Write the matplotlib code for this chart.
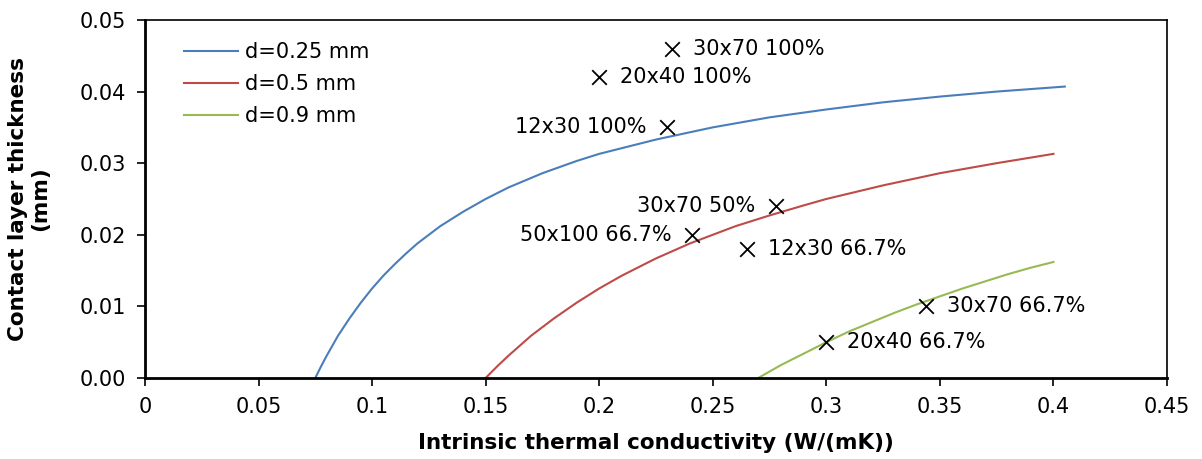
import numpy as np
import matplotlib.pyplot as plt
from matplotlib.ticker import FormatStrFormatter, FuncFormatter

# curves
k_025 = [0.075, 0.0775, 0.08, 0.0825, 0.085, 0.0875, 0.09, 0.095, 0.1, 0.105,
         0.11, 0.115, 0.12, 0.125, 0.13, 0.14, 0.15, 0.16, 0.175, 0.19, 0.2,
         0.225, 0.25, 0.275, 0.3, 0.325, 0.35, 0.375, 0.405]
h_025 = [0.0, 0.0016, 0.0031, 0.0045, 0.0059, 0.0071, 0.0083, 0.0105, 0.0125,
         0.0143, 0.0159, 0.0174, 0.0188, 0.02, 0.0212, 0.0232, 0.025, 0.0266,
         0.0286, 0.0303, 0.0313, 0.0333, 0.035, 0.0364, 0.0375, 0.0385,
         0.0393, 0.040, 0.0407]

k_05 = [0.15, 0.1525, 0.155, 0.16, 0.165, 0.17, 0.18, 0.19, 0.2, 0.21, 0.225,
        0.24, 0.25, 0.26, 0.275, 0.29, 0.3, 0.325, 0.35, 0.375, 0.4]
h_05 = [0.0, 0.0008, 0.0016, 0.0031, 0.0045, 0.0059, 0.0083, 0.0105, 0.0125,
        0.0143, 0.0167, 0.0188, 0.02, 0.0212, 0.0227, 0.0241, 0.025, 0.0269,
        0.0286, 0.03, 0.0313]

k_09 = [0.27, 0.275, 0.28, 0.29, 0.3, 0.31, 0.32, 0.33, 0.34, 0.35, 0.36,
        0.37, 0.38, 0.39, 0.4]
h_09 = [0.0, 0.0009, 0.0018, 0.0034, 0.005, 0.0065, 0.0078, 0.0091, 0.0103,
        0.0114, 0.0125, 0.0135, 0.0145, 0.0154, 0.0162]

# measured samples
meas_k = [0.232, 0.2, 0.23, 0.278, 0.241, 0.265, 0.344, 0.3]
meas_h = [0.046, 0.042, 0.035, 0.024, 0.020, 0.018, 0.010, 0.005]
meas_lab = ['30x70 100%', '20x40 100%', '12x30 100%', '30x70 50%',
            '50x100 66.7%', '12x30 66.7%', '30x70 66.7%', '20x40 66.7%']
lab_side = ['r', 'r', 'l', 'l', 'l', 'r', 'r', 'r']

fs = 15

fig = plt.figure(figsize=(12.02, 4.59), dpi=100)
ax = fig.add_axes([0.1206, 0.1765, 0.8503, 0.78])

ax.plot(k_025, h_025, color='#4a7ebb', lw=1.5, label='d=0.25 mm')
ax.plot(k_05, h_05, color='#be4b48', lw=1.5, label='d=0.5 mm')
ax.plot(k_09, h_09, color='#98b954', lw=1.5, label='d=0.9 mm')

ax.scatter(meas_k, meas_h, marker='x', color='black', s=110, lw=1.3, zorder=3)
for k, h, t, s in zip(meas_k, meas_h, meas_lab, lab_side):
    if s == 'r':
        ax.annotate(t, (k, h), xytext=(15, 0), textcoords='offset points',
                    ha='left', va='center', fontsize=fs)
    else:
        ax.annotate(t, (k, h), xytext=(-15, 0), textcoords='offset points',
                    ha='right', va='center', fontsize=fs)

ax.set_xlim(0, 0.45)
ax.set_ylim(0, 0.05)
ax.set_xticks(np.arange(0, 0.451, 0.05))
ax.set_yticks(np.arange(0, 0.051, 0.01))
ax.yaxis.set_major_formatter(FormatStrFormatter('%.2f'))
ax.xaxis.set_major_formatter(FuncFormatter(lambda v, p: '0' if v == 0 else ('%.2f' % v).rstrip('0')))
ax.tick_params(labelsize=fs, length=6, width=1.2, direction='out', pad=8)

for side in ['top', 'right']:
    ax.spines[side].set_linewidth(1.2)
for side in ['left', 'bottom']:
    ax.spines[side].set_linewidth(2)

ax.set_xlabel('Intrinsic thermal conductivity (W/(mK))', fontsize=15.5,
              fontweight='bold', labelpad=11)
ax.set_ylabel('Contact layer thickness\n(mm)', fontsize=15.5,
              fontweight='bold', linespacing=1.1)
ax.yaxis.set_label_coords(-0.093, 0.5)

ax.legend(loc='upper left', bbox_to_anchor=(0.02, 0.99), frameon=False,
          fontsize=fs, handlelength=2.6, handletextpad=0.3, labelspacing=0.58)

fig.savefig('out.png', dpi=100)
